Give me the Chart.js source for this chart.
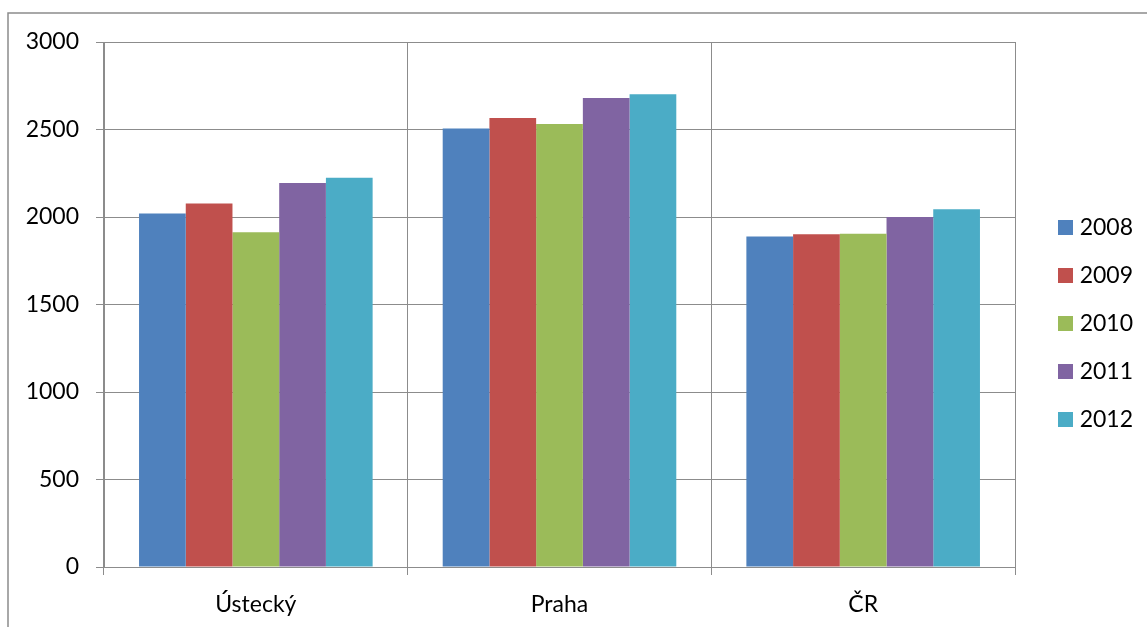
<!DOCTYPE html>
<html>
<head>
<meta charset="utf-8">
<script src="https://cdn.jsdelivr.net/npm/chart.js@4.4.1/dist/chart.umd.min.js"></script>
<style>
  html, body { margin: 0; padding: 0; background: #ffffff; }
  #wrap { width: 1147px; height: 627px; position: relative; }
</style>
</head>
<body>
<div id="wrap"><canvas id="chart" width="1147" height="627"></canvas></div>
<script>
// Regions compared
const categories = ['Ústecký', 'Praha', 'ČR'];

// Series per year
const years = ['2008', '2009', '2010', '2011', '2012'];
const values2008 = [2020, 2506, 1888];
const values2009 = [2077, 2566, 1902];
const values2010 = [1913, 2531, 1905];
const values2011 = [2194, 2680, 2000];
const values2012 = [2225, 2701, 2044];

// Value axis ticks
const yTicks = [0, 500, 1000, 1500, 2000, 2500, 3000];

const seriesValues = [values2008, values2009, values2010, values2011, values2012];
const seriesColors = ['#4F81BD', '#C0504D', '#9BBB59', '#8064A2', '#4BACC6'];

const gridColor = '#8c8c8c';
const fontFamily = 'Lato, "Open Sans", sans-serif';
const fontSize = 23;

// Frame line along the top and left edge of the picture
const framePlugin = {
  id: 'frame',
  beforeDraw(chart) {
    const ctx = chart.ctx;
    ctx.save();
    ctx.fillStyle = '#ffffff';
    ctx.fillRect(0, 0, chart.width, chart.height);
    ctx.strokeStyle = '#8c8c8c';
    ctx.lineWidth = 1.5;
    ctx.beginPath();
    ctx.moveTo(chart.width, 13);
    ctx.lineTo(8, 13);
    ctx.lineTo(8, chart.height);
    ctx.stroke();
    ctx.restore();
  }
};

// Let the category labels run below the category axis box without being clipped
const labelRoomPlugin = {
  id: 'labelRoom',
  afterLayout(chart) {
    const s = chart.scales.x;
    s.bottom = chart.height;
    s.height = s.bottom - s.top;
  }
};

new Chart(document.getElementById('chart'), {
  type: 'bar',
  data: {
    labels: categories,
    datasets: years.map((y, i) => ({
      label: y,
      data: seriesValues[i],
      backgroundColor: seriesColors[i],
      borderWidth: 0,
      yAxisID: 'y',
      categoryPercentage: 1 / 1.3,
      barPercentage: 1.0
    }))
  },
  options: {
    responsive: false,
    animation: false,
    devicePixelRatio: 1,
    layout: { padding: { top: 42, bottom: 22, left: 0, right: 14 } },
    plugins: {
      legend: {
        position: 'right',
        align: 'center',
        maxWidth: 100,
        labels: {
          boxWidth: 15,
          boxHeight: 15,
          padding: 25,
          textAlign: 'right',
          color: '#000000',
          font: { family: fontFamily, size: fontSize }
        }
      },
      tooltip: { enabled: false }
    },
    scales: {
      x: {
        grid: {
          display: true,
          offset: true,
          color: gridColor,
          lineWidth: 1,
          drawTicks: true,
          tickLength: 8
        },
        border: { display: true, color: gridColor, width: 1 },
        ticks: {
          color: '#000000',
          padding: 16,
          font: { family: fontFamily, size: fontSize }
        },
        afterFit(scale) { scale.height = 38; }
      },
      y: {
        position: 'left',
        min: 0,
        max: 3000,
        afterBuildTicks(scale) {
          scale.ticks = yTicks.map(v => ({ value: v }));
        },
        grid: {
          color: gridColor,
          lineWidth: 1,
          drawTicks: true,
          tickLength: 8
        },
        border: { display: true, color: gridColor, width: 1 },
        ticks: {
          color: '#000000',
          padding: 17,
          font: { family: fontFamily, size: fontSize },
          callback: v => String(v)
        },
        afterFit(scale) { scale.width = 104; }
      },
      gap: {
        type: 'linear',
        position: 'right',
        display: true,
        grid: { display: false, drawTicks: false },
        border: { display: false },
        ticks: { display: false },
        afterFit(scale) { scale.width = 18; }
      }
    }
  },
  plugins: [framePlugin, labelRoomPlugin]
});
</script>
</body>
</html>
